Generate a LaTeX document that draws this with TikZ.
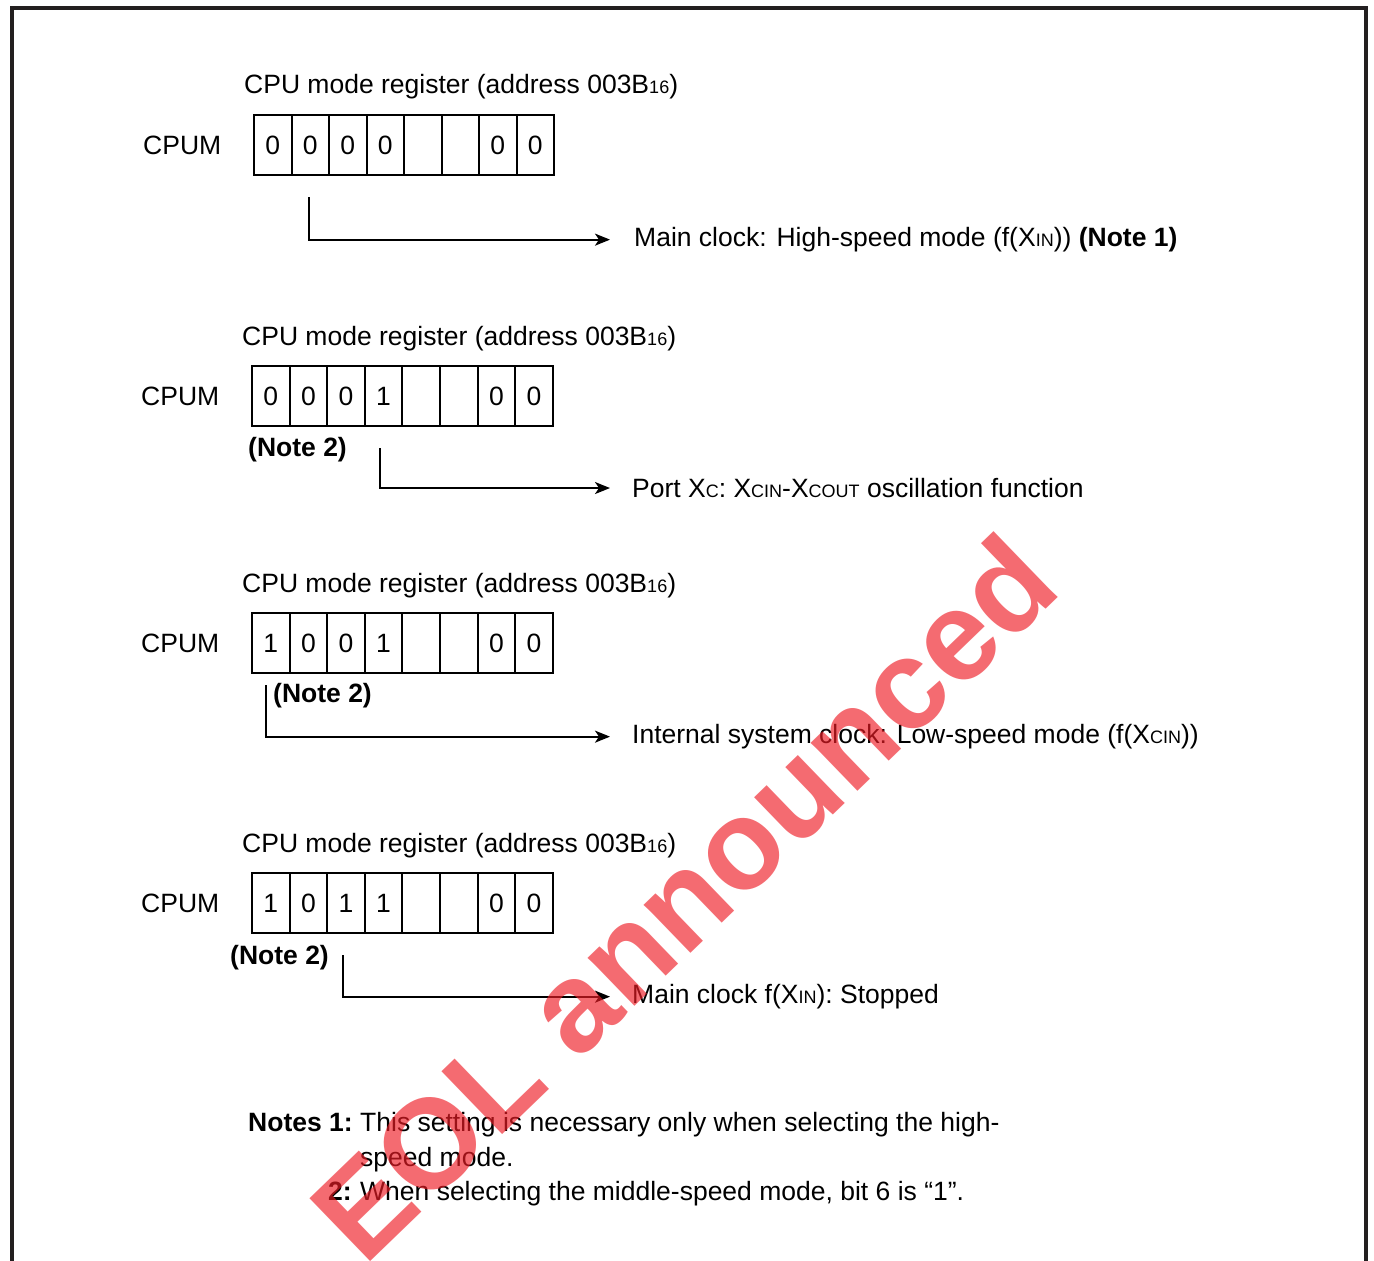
\documentclass[tikz,border=0pt]{standalone}
\usepackage{fontspec}
\setmainfont{Liberation Sans}
\usetikzlibrary{arrows.meta}
\newcommand{\sm}[1]{{\fontsize{18}{20}\selectfont #1}}
\definecolor{frame}{HTML}{231F20}
\definecolor{wmred}{HTML}{EE1C25}
\begin{document}
\begin{tikzpicture}[x=1pt,y=-1pt,
  txt/.style={font=\fontsize{26.5}{32}\selectfont, inner sep=0pt, anchor=base west},
  notetxt/.style={font=\fontsize{26.5}{32}\selectfont\bfseries, inner sep=0pt, anchor=base west},
  cell/.style={draw, line width=2pt, minimum width=37.5pt, minimum height=60pt, inner sep=0pt, font=\fontsize{26.5}{32}\selectfont},
  conn/.style={line width=2pt, -{Stealth[length=15pt,width=12pt,inset=4pt]}}]
\useasboundingbox (0,0) rectangle (1374,1261);
% frame
\draw[frame, line width=4.5pt, line join=miter] (12,1265) -- (12,8) -- (1366,8) -- (1366,1265);

% ---------- register 1
\node[txt] (h1) at (244,93) {CPU mode register (address 003B\sm{16})};
\node[txt] (l1) at (143,154) {CPUM};
\foreach \v [count=\i] in {0,0,0,0,{},{},0,0}
  \node[cell] (r1c\i) at ({254+37.5*(\i-0.5)},145) {\v};
\coordinate (v1) at (309,197);
\node[txt] (t1) at (634,246.5) {Main clock: High-speed mode (f(X\sm{IN})) \textbf{(Note 1)}};
\draw[conn, shorten >=24pt] (v1) |- (t1.west);

% ---------- register 2
\node[txt] (h2) at (242,345) {CPU mode register (address 003B\sm{16})};
\node[txt] (l2) at (141,405) {CPUM};
\foreach \v [count=\i] in {0,0,0,1,{},{},0,0}
  \node[cell] (r2c\i) at ({252+37.6*(\i-0.5)},396) {\v};
\node[notetxt] (n2) at (248,456.5) {(Note 2)};
\coordinate (v2) at (380,448);
\node[txt] (t2) at (632,497.5) {Port X\sm{C}: X\sm{CIN}-X\sm{COUT} oscillation function};
\draw[conn, shorten >=22pt] (v2) |- (t2.west);

% ---------- register 3
\node[txt] (h3) at (242,592) {CPU mode register (address 003B\sm{16})};
\node[txt] (l3) at (141,652) {CPUM};
\foreach \v [count=\i] in {1,0,0,1,{},{},0,0}
  \node[cell] (r3c\i) at ({252+37.6*(\i-0.5)},643) {\v};
\node[notetxt] (n3) at (273,702.5) {(Note 2)};
\coordinate (v3) at (266,685);
\node[txt] (t3) at (632,743.5) {Internal system clock: Low-speed mode (f(X\sm{CIN}))};
\draw[conn, shorten >=22pt] (v3) |- (t3.west);

% ---------- register 4
\node[txt] (h4) at (242,852) {CPU mode register (address 003B\sm{16})};
\node[txt] (l4) at (141,912) {CPUM};
\foreach \v [count=\i] in {1,0,1,1,{},{},0,0}
  \node[cell] (r4c\i) at ({252+37.6*(\i-0.5)},903) {\v};
\node[notetxt] (n4) at (230,964.5) {(Note 2)};
\coordinate (v4) at (343,955);
\node[txt] (t4) at (632,1003.5) {Main clock f(X\sm{IN}): Stopped};
\draw[conn, shorten >=22pt] (v4) |- (t4.west);

% ---------- notes
\node[notetxt] (nh) at (248,1131.5) {Notes 1:};
\node[txt] (nt1) at (360,1131.5) {This setting is necessary only when selecting the high-};
\node[txt] (nt1b) at (360,1166.5) {speed mode.};
\node[notetxt] (nh2) at (328,1200.5) {2:};
\node[txt] (nt2) at (360,1200.5) {When selecting the middle-speed mode, bit 6 is “1”.};

% ---------- watermark
\node[rotate=44, text=wmred, opacity=0.65, inner sep=0pt,
      font=\fontsize{127}{127}\selectfont\bfseries] (wm) at (683,897) {EOL announced};
\end{tikzpicture}
\end{document}
